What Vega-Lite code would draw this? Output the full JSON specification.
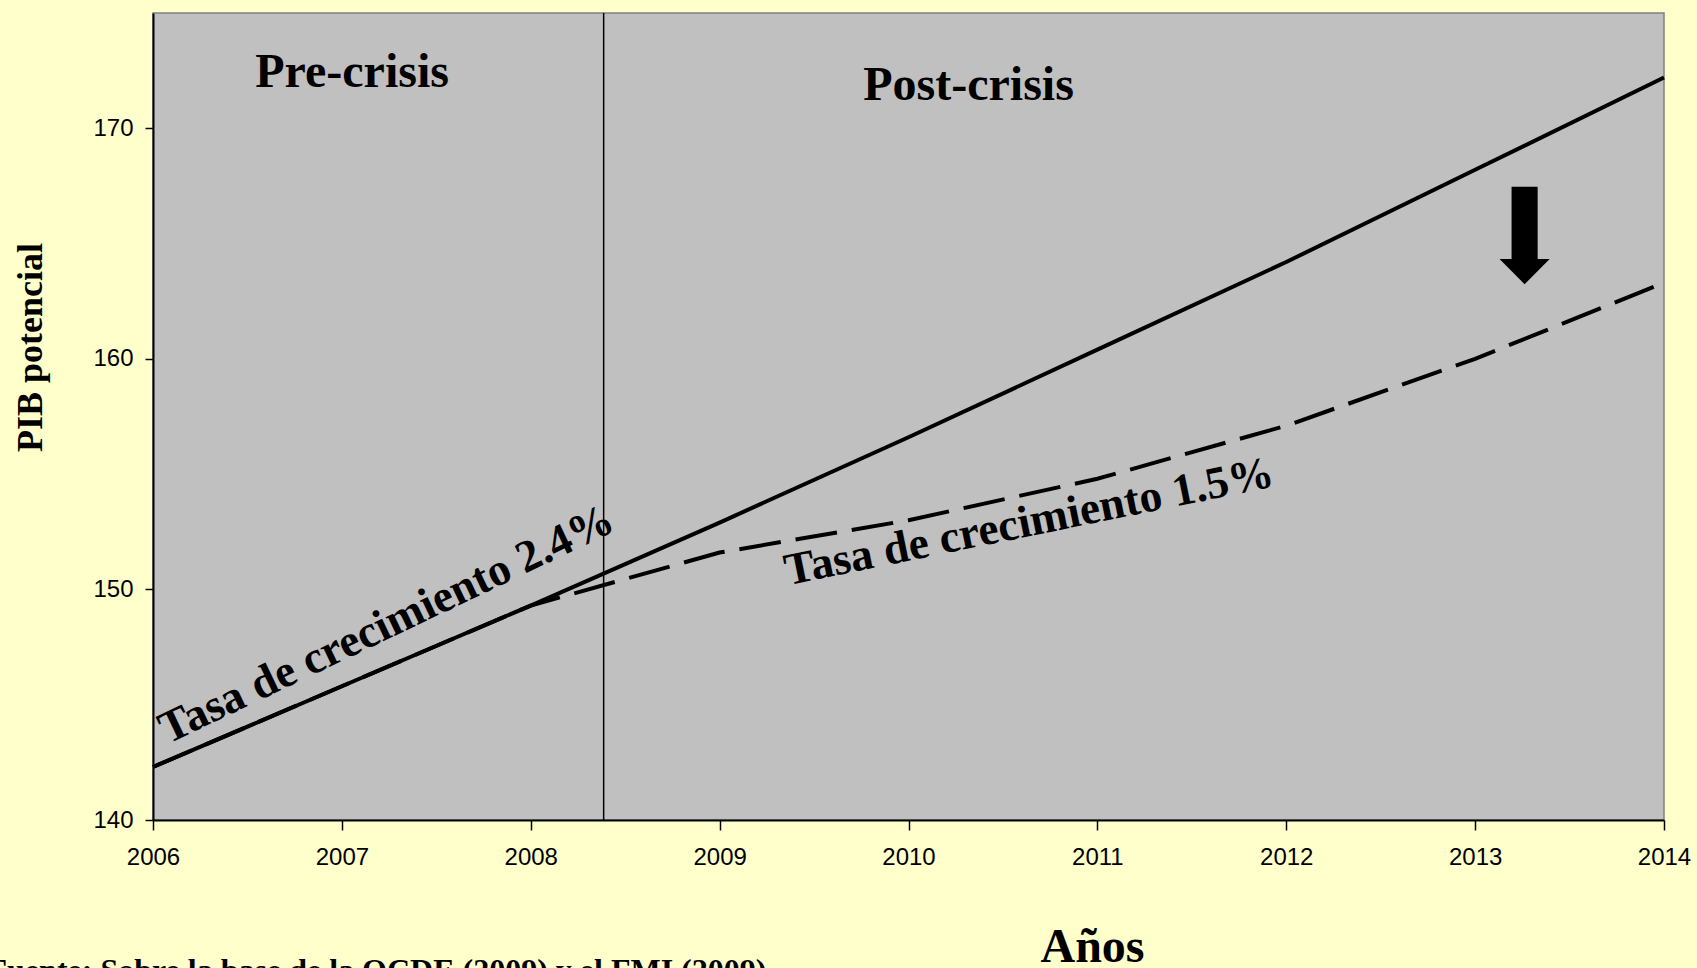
{
  "$schema": "https://vega.github.io/schema/vega-lite/v6.json",
  "width": 1511,
  "height": 807,
  "autosize": {"type": "none"},
  "padding": {"left": 153, "top": 13, "right": 33, "bottom": 148},
  "background": "#FFFFCC",
  "config": {
    "view": {"fill": "#C0C0C0", "stroke": "#808080", "strokeWidth": 1.5},
    "font": "Liberation Serif"
  },
  "datasets": {
    "crisis": [{"year": 2008.386}],
    "tendencia24": [
      {"year": 2006, "pib": 142.3},
      {"year": 2007, "pib": 145.8},
      {"year": 2008, "pib": 149.3},
      {"year": 2009, "pib": 152.9},
      {"year": 2010, "pib": 156.6},
      {"year": 2011, "pib": 160.4},
      {"year": 2012, "pib": 164.2},
      {"year": 2013, "pib": 168.2},
      {"year": 2014, "pib": 172.2}
    ],
    "tendencia15": [
      {"year": 2006, "pib": 142.3},
      {"year": 2007, "pib": 145.8},
      {"year": 2008, "pib": 149.3},
      {"year": 2009, "pib": 151.6},
      {"year": 2010, "pib": 153.0},
      {"year": 2011, "pib": 154.8},
      {"year": 2012, "pib": 157.1},
      {"year": 2013, "pib": 160.0},
      {"year": 2014, "pib": 163.3}
    ],
    "periodos": [
      {"year": 2007.054, "pib": 171.81, "label": "Pre-crisis"},
      {"year": 2010.318, "pib": 171.24, "label": "Post-crisis"}
    ],
    "tasa24": [{"year": 2006.078, "pib": 143.29, "label": "Tasa de crecimiento 2.4%"}],
    "tasa15": [{"year": 2009.361, "pib": 150.18, "label": "Tasa de crecimiento 1.5%"}],
    "flecha": [{"year": 2013.262, "pib": 165.35}],
    "fuente": [{"year": 2005.124, "pib": 133.02, "label": "Fuente: Sobre la base de la OCDE (2009) y el FMI (2009)"}]
  },
  "encoding": {
    "x": {
      "field": "year",
      "type": "quantitative",
      "scale": {"domain": [2006, 2014], "nice": false, "zero": false},
      "axis": {
        "values": [2006, 2007, 2008, 2009, 2010, 2011, 2012, 2013, 2014],
        "format": "d",
        "grid": false,
        "labelFlush": false,
        "labelOverlap": false,
        "labelFont": "Liberation Sans",
        "labelFontSize": 24,
        "labelColor": "#000000",
        "labelPadding": 15,
        "tickColor": "#000000",
        "tickSize": 10,
        "tickWidth": 1.5,
        "domainColor": "#000000",
        "domainWidth": 2,
        "title": "Años",
        "titleFont": "Liberation Serif",
        "titleFontSize": 48,
        "titleFontWeight": "bold",
        "titleColor": "#000000",
        "titleX": 939,
        "titleY": 141,
        "titleAlign": "center",
        "titleBaseline": "alphabetic",
        "titleAngle": 0
      }
    },
    "y": {
      "field": "pib",
      "type": "quantitative",
      "scale": {"domain": [140, 175], "nice": false, "zero": false},
      "axis": {
        "values": [140, 150, 160, 170],
        "grid": false,
        "labelFlush": false,
        "labelOverlap": false,
        "labelFont": "Liberation Sans",
        "labelFontSize": 24,
        "labelColor": "#000000",
        "labelPadding": 12,
        "tickColor": "#000000",
        "tickSize": 8,
        "tickWidth": 1.5,
        "domainColor": "#000000",
        "domainWidth": 2,
        "title": "PIB potencial",
        "titleFont": "Liberation Serif",
        "titleFontSize": 36,
        "titleFontWeight": "bold",
        "titleColor": "#000000",
        "titleX": -112,
        "titleY": 334,
        "titleAngle": -90,
        "titleAlign": "center",
        "titleBaseline": "alphabetic"
      }
    }
  },
  "layer": [
    {
      "data": {"name": "crisis"},
      "mark": {"type": "rule", "color": "#000000", "strokeWidth": 1.5},
      "encoding": {"x": {"field": "year", "type": "quantitative"}, "y": null}
    },
    {
      "data": {"name": "tendencia15"},
      "mark": {"type": "line", "color": "#000000", "strokeWidth": 4, "strokeDash": [42, 15], "strokeCap": "butt"}
    },
    {
      "data": {"name": "tendencia24"},
      "mark": {"type": "line", "color": "#000000", "strokeWidth": 4}
    },
    {
      "data": {"name": "periodos"},
      "mark": {"type": "text", "font": "Liberation Serif", "fontWeight": "bold", "fontSize": 48, "align": "center", "baseline": "alphabetic", "color": "#000000"},
      "encoding": {"text": {"field": "label"}}
    },
    {
      "data": {"name": "tasa24"},
      "mark": {"type": "text", "font": "Liberation Serif", "fontWeight": "bold", "fontSize": 45.5, "align": "left", "baseline": "alphabetic", "angle": -25.5, "color": "#000000"},
      "encoding": {"text": {"field": "label"}}
    },
    {
      "data": {"name": "tasa15"},
      "mark": {"type": "text", "font": "Liberation Serif", "fontWeight": "bold", "fontSize": 45.5, "align": "left", "baseline": "alphabetic", "angle": -11.5, "color": "#000000"},
      "encoding": {"text": {"field": "label"}}
    },
    {
      "data": {"name": "flecha"},
      "mark": {"type": "point", "filled": true, "color": "#000000", "opacity": 1, "size": 9470, "strokeWidth": 0, "shape": "M-0.268,-1 L0.268,-1 L0.268,0.485 L0.515,0.485 L0,1 L-0.515,0.485 L-0.268,0.485 Z"}
    },
    {
      "data": {"name": "fuente"},
      "mark": {"type": "text", "font": "Liberation Serif", "fontWeight": "bold", "fontSize": 32, "align": "left", "baseline": "alphabetic", "color": "#000000"},
      "encoding": {"text": {"field": "label"}}
    }
  ]
}
